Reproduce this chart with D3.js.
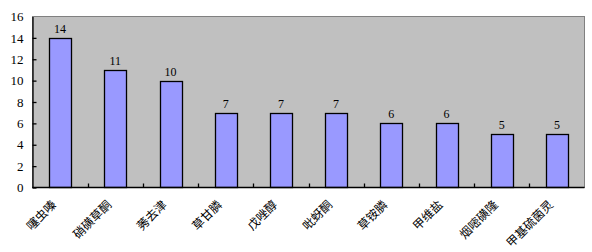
<!DOCTYPE html>
<html><head><meta charset="utf-8">
<script src="https://cdn.jsdelivr.net/npm/d3@7"></script>
<style>body{margin:0;background:#fff}</style>
</head><body>
<script>
const categories = ["噻虫嗪","硝磺草酮","莠去津","草甘膦","戊唑醇","吡蚜酮","草铵膦","甲维盐","烟嘧磺隆","甲基硫菌灵"];
const values = [14,11,10,7,7,7,6,6,5,5];
const yTicks = [0,2,4,6,8,10,12,14,16];

const W=592,H=252;
const L=32.5,R=584.5,T=16.5,B=187.5;
const svg=d3.select("body").append("svg").attr("width",W).attr("height",H);
const xb=d3.scaleBand().domain(categories).range([L,R]);
const y=d3.scaleLinear().domain([0,16]).range([B,T]);

svg.append("rect").attr("x",L).attr("y",T).attr("width",R-L).attr("height",B-T)
  .attr("fill","#C0C0C0").attr("stroke","#808080").attr("stroke-width",1);

svg.selectAll("rect.bar").data(values).enter().append("rect").attr("class","bar")
  .attr("x",(d,i)=>Math.round(xb(categories[i])+xb.bandwidth()/2-11)+0.5)
  .attr("y",d=>Math.round(y(d))+0.5)
  .attr("width",22)
  .attr("height",d=>B-Math.round(y(d))-0.5)
  .attr("fill","#9999FF").attr("stroke","#000").attr("stroke-width",1.3);

svg.selectAll("text.val").data(values).enter().append("text").attr("class","val")
  .attr("x",(d,i)=>xb(categories[i])+xb.bandwidth()/2)
  .attr("y",d=>y(d)-5)
  .attr("text-anchor","middle")
  .attr("font-family","Liberation Serif, serif").attr("font-size",12).attr("fill","#000")
  .text(d=>d);

// y axis
const ya=d3.axisLeft(y).tickValues(yTicks).tickSizeInner(-4).tickSizeOuter(0).tickPadding(9);
const gy=svg.append("g").attr("transform",`translate(${L},0)`).call(ya);
gy.select(".domain").attr("stroke","#000").attr("stroke-width",1.3);
gy.selectAll(".tick line").attr("stroke","#000").attr("stroke-width",1.3);
gy.selectAll(".tick text").attr("font-family","Liberation Serif, serif").attr("font-size",13).attr("fill","#000");
gy.selectAll(".tick").filter(d=>d===16).select("line").remove();

// x axis baseline and boundary ticks
svg.append("line").attr("x1",L).attr("x2",R).attr("y1",B).attr("y2",B).attr("stroke","#000").attr("stroke-width",1.3);
svg.selectAll("line.xt").data(categories.slice(1)).enter().append("line").attr("class","xt")
  .attr("x1",d=>Math.round(xb(d))+0.5).attr("x2",d=>Math.round(xb(d))+0.5)
  .attr("y1",B).attr("y2",B-4).attr("stroke","#000").attr("stroke-width",1.3);

svg.selectAll("text.cat").data(categories).enter().append("text").attr("class","cat")
  .attr("transform",d=>`translate(${xb(d)+xb.bandwidth()/2-3},${B+18}) rotate(-45)`)
  .attr("text-anchor","end")
  .attr("font-family","Noto Sans CJK SC, sans-serif").attr("font-size",12).attr("fill","#000")
  .text(d=>d);
</script>
</body></html>
